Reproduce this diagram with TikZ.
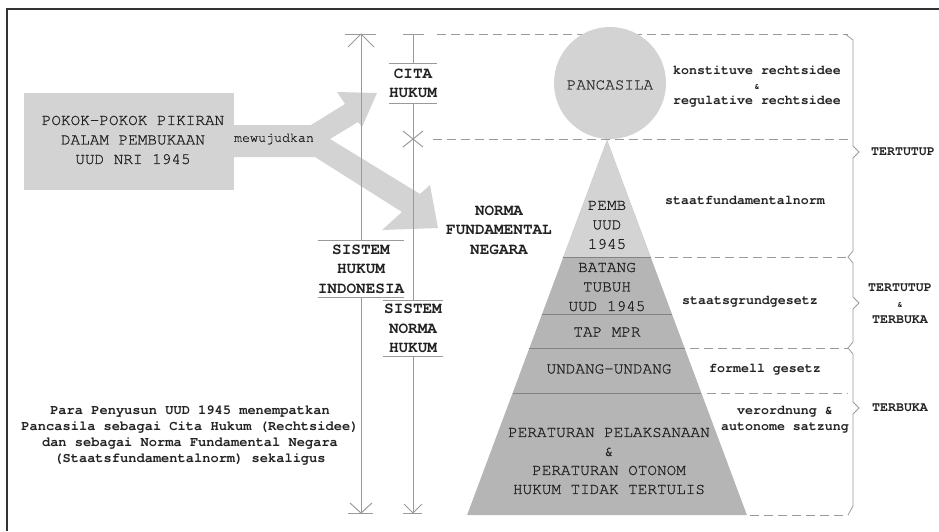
\documentclass[tikz,border=0pt]{standalone}
\usepackage{fontspec}
\setmainfont{texgyrecursor}[Extension=.otf, UprightFont=*-regular, BoldFont=*-bold, UprightFeatures={FakeBold=0.9}]
\definecolor{lightfill}{HTML}{D3D3D3}
\definecolor{midfill}{HTML}{B5B5B5}
\definecolor{rule}{HTML}{9A9A9A}
\definecolor{ink}{HTML}{222222}
\definecolor{frame}{HTML}{333333}
\begin{document}
\begin{tikzpicture}[x=1pt,y=-1pt,
  big/.style={font=\fontsize{16}{19.5}\selectfont, text=ink, align=center, inner sep=0pt},
  bigb/.style={font=\fontsize{16}{19.5}\selectfont\bfseries, text=ink, align=center, inner sep=0pt},
  note/.style={font=\fontsize{13.3}{15.5}\selectfont, text=ink, align=center, inner sep=0pt},
  noteb/.style={font=\fontsize{13.3}{15.5}\selectfont\bfseries, text=ink, align=center, inner sep=0pt},
  rulebar/.style={draw=rule, line width=1pt},
  guide/.style={draw=rule, line width=0.9pt, dash pattern=on 9pt off 5pt},
  bracepath/.style={draw=rule, line width=0.8pt},
  tier/.style={draw=rule!85!black, line width=0.8pt},
  tag/.style={bigb, minimum width=#1, inner sep=0pt}
]
\useasboundingbox (0,0) rectangle (939,531);

% outer frame
\draw[frame, line width=1.5pt] (7,531) -- (7,9) -- (939,9);

% source box and the split arrow
\fill[lightfill] (234,125) -- (311,125) -- (345,104) -- (337,92) -- (377,93)
  -- (362,127) -- (358,122) -- (330,139) -- (420,194) -- (430,185)
  -- (438,228) -- (382,230) -- (402,212) -- (315,157) -- (234,157) -- cycle;
\node[fill=lightfill, minimum width=210pt, minimum height=97pt, inner sep=0pt] (pokok) at (129,141.5) {};
\node[big] (pokoktxt) at (133,140) {POKOK-POKOK PIKIRAN\\DALAM PEMBUKAAN\\UUD NRI 1945};
\node[note] (mewujud) at (274,139) {mewujudkan};

% horizontal guide lines
\draw[guide] (437,34) -- (848,34);
\draw[guide] (433,139) -- (848,139);
\draw[guide] (655,257) -- (848,257);
\draw[guide] (690,348) -- (848,348);
\draw[guide] (707,393) -- (848,393);
\draw[guide] (750,515) -- (848,515);

% Pancasila
\node[circle, fill=lightfill, minimum size=112pt, inner sep=0pt] (pancasila) at (610,83) {};
\node[big, text=frame] (pancatxt) at (610,85) {PANCASILA};

% pyramid
\fill[midfill] (607,140) -- (467.1,515) -- (746.9,515) -- cycle;
\fill[lightfill] (607,140) -- (563.4,257) -- (650.6,257) -- cycle;
\draw[tier] (563.4,257) -- (650.6,257);
\draw[tier] (542.1,314) -- (671.9,314);
\draw[tier] (529.4,348) -- (684.6,348);
\draw[tier] (512.6,393) -- (701.4,393);

\node[big] (pemb) at (607,225) {PEMB\\UUD\\1945};
\node[big] (batang) at (607,287) {BATANG\\TUBUH\\UUD 1945};
\node[big] (tap) at (607,332) {TAP MPR};
\node[big] (uu) at (609,369) {UNDANG-UNDANG};
\node[big, font=\fontsize{16}{19}\selectfont] (pp) at (609,461) {PERATURAN PELAKSANAAN\\\&\\PERATURAN OTONOM\\HUKUM TIDAK TERTULIS};

% norm names on the right
\node[noteb, font=\fontsize{13.3}{15}\selectfont\bfseries] (idee) at (757,87) {konstituve rechtsidee\\{\fontsize{9}{9}\selectfont\&}\\regulative rechtsidee};
\node[noteb] (sfn) at (745,200) {staatfundamentalnorm};
\node[noteb] (sgg) at (750,302) {staatsgrundgesetz};
\node[noteb] (fg) at (765,370) {formell gesetz};
\node[noteb, font=\fontsize{13.3}{16}\selectfont\bfseries] (vo) at (785,420) {verordnung \&\\autonome satzung};

% braces
\draw[bracepath] (845,34) -- (853,40) -- (853,146) -- (859,152) -- (853,158) -- (853,251) -- (848,257)
  -- (853,263) -- (853,297) -- (859,303) -- (853,309) -- (853,342) -- (848,348)
  -- (853,354) -- (853,402) -- (859,408) -- (853,414) -- (853,506) -- (848,515);
\node[noteb] (t1) at (903,152) {TERTUTUP};
\node[noteb, font=\fontsize{13.3}{16}\selectfont\bfseries] (t2) at (900,304) {TERTUTUP\\{\fontsize{9}{9}\selectfont\&}\\TERBUKA};
\node[noteb] (t3) at (900,408) {TERBUKA};

\node[bigb] (nfn) at (499,230) {NORMA\\FUNDAMENTAL\\NEGARA};

% system labels with over- and underlines
\node[tag=86pt, minimum height=56pt] (shi) at (361,269) {SISTEM\\HUKUM\\INDONESIA};
\node[tag=48pt, minimum height=39pt] (cita) at (413,83.5) {CITA\\HUKUM};
\node[tag=60pt, minimum height=55pt] (snh) at (413,328.5) {SISTEM\\NORMA\\HUKUM};
\foreach \n in {shi,cita,snh}{
  \draw[rulebar] (\n.north west) -- (\n.north east);
  \draw[rulebar] (\n.south west) -- (\n.south east);
}

% vertical scales
\coordinate (top1) at (361,34);
\coordinate (bot1) at (361,513);
\coordinate (top2) at (413,34);
\coordinate (cross) at (413,139);
\coordinate (bot2) at (413,513);

\draw[rulebar] (top1) -- (shi.north);
\draw[rulebar] (shi.south) -- (bot1);
\draw[rulebar] (top1) ++(-16,0) -- ++(31,0);
\draw[rulebar] (top1) ++(-13,13) -- (top1) -- ++(13,13);
\draw[rulebar] (bot1) ++(-13,0) -- ++(25,0);
\draw[rulebar] (bot1) ++(-11,-10) -- (bot1) -- ++(11,-10);

\draw[rulebar] (top2) -- (cita.north);
\draw[rulebar] (cita.south) -- (snh.north);
\draw[rulebar] (snh.south) -- (bot2);
\draw[rulebar] (top2) ++(-10,0) -- ++(21,0);
\draw[rulebar] (cross) ++(-10,-8) -- ++(20,16);
\draw[rulebar] (cross) ++(-10,8) -- ++(20,-16);
\draw[rulebar] (bot2) ++(-10,0) -- ++(19,0);
\draw[rulebar] (bot2) ++(-9,-9) -- (bot2) -- ++(9,-9);

% closing remark
\node[noteb, font=\fontsize{13.7}{16}\selectfont\bfseries] (remark) at (190,436)
  {Para Penyusun UUD 1945 menempatkan\\Pancasila sebagai Cita Hukum (Rechtsidee)\\dan sebagai Norma Fundamental Negara\\(Staatsfundamentalnorm) sekaligus};
\end{tikzpicture}
\end{document}
